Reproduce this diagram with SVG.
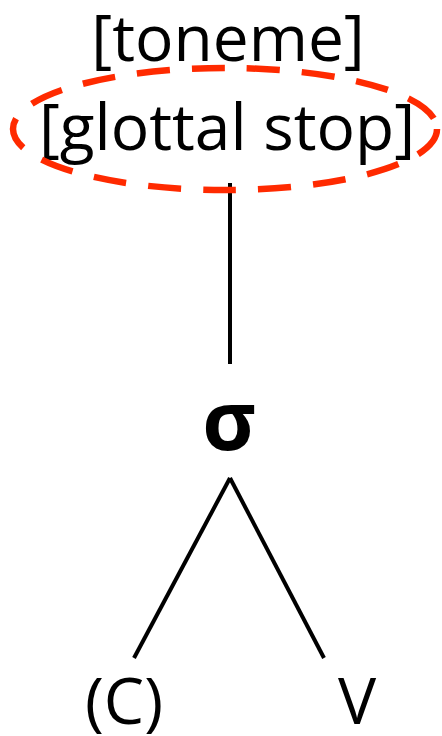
<svg xmlns="http://www.w3.org/2000/svg" width="442" height="736" viewBox="0 0 442 736">
<style>
text{font-family:"Open Sans","Noto Sans",sans-serif;font-size:64px;fill:#000;text-anchor:middle}
.edge{stroke:#000;stroke-width:4;fill:none}
</style>
<rect width="442" height="736" fill="#fff"/>
<g id="connectors">
<line class="edge" x1="230" y1="183" x2="230" y2="364"/>
<line class="edge" x1="230" y1="478" x2="134" y2="658"/>
<line class="edge" x1="230" y1="478" x2="324" y2="658"/>
</g>
<g id="node-tone">
<text x="228" y="61">[toneme]</text>
<text x="227" y="150">[glottal stop]</text>
<ellipse cx="225" cy="129" rx="212" ry="61" fill="none" stroke="#ff2a00" stroke-width="6.5" stroke-dasharray="33 22"/>
</g>
<g id="node-sigma"><text x="229" y="450" style="font-weight:bold;font-size:82px">σ</text></g>
<g id="node-c"><text x="124" y="724">(C)</text></g>
<g id="node-v"><text x="357" y="724">V</text></g>
</svg>
